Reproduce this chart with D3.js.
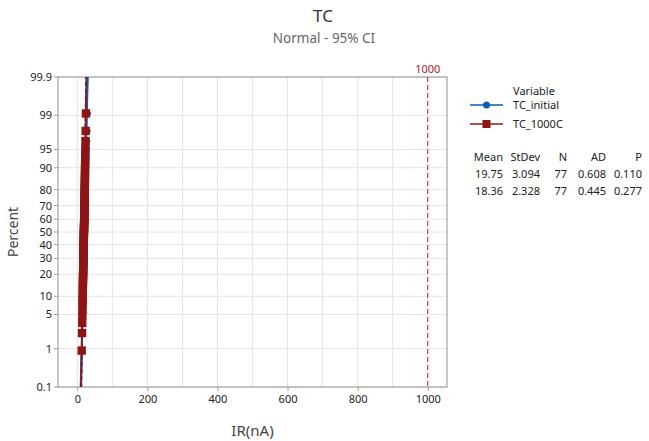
<!DOCTYPE html>
<html><head><meta charset="utf-8">
<script src="https://cdn.jsdelivr.net/npm/d3@7"></script>
<style>body{margin:0;background:#fff;}svg{display:block;font-family:"Noto Sans",sans-serif;}</style>
</head><body><svg id="c" width="649" height="441"></svg>
<script>
// ---- data ----
const seriesNames = ["TC_initial", "TC_1000C"];
const tcInitial = [11.8,13.5,14.4,15.0,15.5,15.9,16.2,16.5,16.7,16.9,17.1,17.3,17.5,17.7,17.8,18.0,18.1,18.2,18.4,18.5,
  18.6,18.7,18.8,18.9,19.0,19.1,19.2,19.3,19.4,19.5,19.5,19.6,19.7,19.8,19.9,19.9,20.0,20.1,20.2,20.3,
  20.4,20.5,20.6,20.7,20.8,20.9,21.0,21.1,21.2,21.3,21.4,21.5,21.6,21.7,21.9,22.0,22.1,22.3,22.4,22.6,
  22.8,23.0,23.2,23.4,23.7,24.0,24.3,24.7,25.1,25.6,26.2,26.9,27.6,28.4,29.2,30.1,31.0];
const tc1000C = [12.6,13.6,14.1,14.5,14.8,15.0,15.2,15.4,15.6,15.8,15.9,16.1,16.2,16.4,16.5,16.6,16.8,16.9,17.0,17.1,
  17.2,17.3,17.4,17.5,17.6,17.7,17.8,17.9,18.0,18.1,18.2,18.3,18.4,18.5,18.6,18.7,18.8,18.9,19.0,19.1,
  19.2,19.3,19.4,19.5,19.6,19.7,19.8,19.9,20.0,20.1,20.2,20.3,20.4,20.5,20.6,20.7,20.8,20.9,21.0,21.1,
  21.2,21.3,21.4,21.5,21.6,21.7,21.8,21.9,22.0,22.2,22.4,22.6,22.8,23.1,23.5,24.0,24.7];
const means = [19.75, 18.36];
const stdevs = [3.094, 2.328];
const ns = [77, 77];
const ads = [0.608, 0.445];
const pvals = [0.110, 0.277];
const statHeaders = ["Mean", "StDev", "N", "AD", "P"];
const statRows = [["19.75","3.094","77","0.608","0.110"],["18.36","2.328","77","0.445","0.277"]];
const xTicks = [0, 200, 400, 600, 800, 1000];
const xGrid = [0,100,200,300,400,500,600,700,800,900,1000];
const yTicks = [0.1, 1, 5, 10, 20, 30, 40, 50, 60, 70, 80, 90, 95, 99, 99.9];
const refLine = 1000;
const colors = ["#0b5cb5", "#8f1515"];

// inverse normal CDF (Acklam)
function qnorm(p){
  const a=[-3.969683028665376e+01,2.209460984245205e+02,-2.759285104469687e+02,1.383577518672690e+02,-3.066479806614716e+01,2.506628277459239e+00];
  const b=[-5.447609879822406e+01,1.615858368580409e+02,-1.556989798598866e+02,6.680131188771972e+01,-1.328068155288572e+01];
  const c=[-7.784894002430293e-03,-3.223964580411365e-01,-2.400758277161838e+00,-2.549671010366540e+00,4.374664141464968e+00,2.938163982698783e+00];
  const d=[7.784695709041462e-03,3.224671290700398e-01,2.445134137142996e+00,3.754408661907416e+00];
  const pl=0.02425;let q,r;
  if(p<pl){q=Math.sqrt(-2*Math.log(p));return (((((c[0]*q+c[1])*q+c[2])*q+c[3])*q+c[4])*q+c[5])/((((d[0]*q+d[1])*q+d[2])*q+d[3])*q+1);}
  if(p<=1-pl){q=p-0.5;r=q*q;return (((((a[0]*r+a[1])*r+a[2])*r+a[3])*r+a[4])*r+a[5])*q/(((((b[0]*r+b[1])*r+b[2])*r+b[3])*r+b[4])*r+1);}
  q=Math.sqrt(-2*Math.log(1-p));return -(((((c[0]*q+c[1])*q+c[2])*q+c[3])*q+c[4])*q+c[5])/((((d[0]*q+d[1])*q+d[2])*q+d[3])*q+1);
}

const svg = d3.select("#c");
const L=58, R=447, T=77, B=387;
const x = d3.scaleLinear().domain([-55, 1055]).range([L, R]);
const y = d3.scaleLinear().domain([qnorm(0.001), qnorm(0.999)]).range([B, T]);
const yp = p => y(qnorm(p/100));

// grid
svg.append("g").selectAll("line").data(xGrid).join("line")
  .attr("x1",d=>x(d)).attr("x2",d=>x(d)).attr("y1",T).attr("y2",B)
  .attr("stroke","#e4e4e4").attr("stroke-width",1);
svg.append("g").selectAll("line").data(yTicks).join("line")
  .attr("x1",L).attr("x2",R).attr("y1",d=>yp(d)).attr("y2",d=>yp(d))
  .attr("stroke","#e4e4e4").attr("stroke-width",1);

// axes
const xAxis = d3.axisBottom(x).tickValues(xTicks).tickSize(4).tickPadding(4).tickFormat(d3.format("d"));
const gx = svg.append("g").attr("transform",`translate(0,${B})`).call(xAxis);
const gy = svg.append("g").attr("transform",`translate(${L},0)`);
gy.selectAll("line").data(yTicks).join("line").attr("x1",-4).attr("x2",0)
  .attr("y1",d=>yp(d)).attr("y2",d=>yp(d)).attr("stroke","#999");
gy.selectAll("text").data(yTicks).join("text").attr("x",-6).attr("y",d=>yp(d)).attr("dy","0.35em")
  .attr("text-anchor","end").attr("font-size",11).attr("fill","#222").text(d=>d);
gx.select(".domain").remove();
gx.selectAll("line").attr("stroke","#999");
gx.selectAll("text").attr("font-size",11).attr("fill","#222").attr("font-family","Noto Sans");
// frame
svg.append("rect").attr("x",L).attr("y",T).attr("width",R-L).attr("height",B-T)
  .attr("fill","none").attr("stroke","#a3a3a3").attr("stroke-width",1.2);

// clip
svg.append("clipPath").attr("id","clip").append("rect").attr("x",L).attr("y",T).attr("width",R-L).attr("height",B-T);
const plot = svg.append("g").attr("clip-path","url(#clip)");

// reference line
plot.append("line").attr("x1",x(refLine)).attr("x2",x(refLine)).attr("y1",T).attr("y2",B)
  .attr("stroke","#c0282d").attr("stroke-width",1).attr("stroke-dasharray","5,3");
svg.append("text").attr("x",x(refLine)).attr("y",T-4).attr("text-anchor","middle")
  .attr("font-size",11).attr("fill","#a8232a").text(refLine);

// series
const data = [tcInitial, tc1000C];
const probs = d3.range(0.1, 99.95, 0.1).concat([99.9]);
data.forEach((vals, k) => {
  const m = means[k], s = stdevs[k], n = ns[k], col = colors[k];
  const fit = d3.line().x(p => x(m + s*qnorm(p/100))).y(p => yp(p));
  const ci = sign => d3.line().x(p => { const z=qnorm(p/100); return x(m + s*z + sign*1.96*s/Math.sqrt(n)*Math.sqrt(1+z*z/2)); }).y(p => yp(p));
  plot.append("path").attr("d",fit(probs)).attr("fill","none").attr("stroke",col).attr("stroke-width",1.5);
  [-1,1].forEach(sg => plot.append("path").attr("d",ci(sg)(probs)).attr("fill","none").attr("stroke",col)
    .attr("stroke-width",1.2).attr("stroke-dasharray", k===1 ? "4,3" : null));
  const sorted = vals.slice().sort(d3.ascending);
  const pts = sorted.map((v,i) => ({v, p: 100*(i+1-0.3)/(sorted.length+0.4)}));
  if (k===0) {
    plot.append("g").selectAll("circle").data(pts).join("circle")
      .attr("cx",d=>x(d.v)).attr("cy",d=>yp(d.p)).attr("r",2.8).attr("fill",col);
  } else {
    plot.append("g").selectAll("rect").data(pts).join("rect")
      .attr("x",d=>x(d.v)-4.2).attr("y",d=>yp(d.p)-4.2).attr("width",8.4).attr("height",8.4).attr("fill",col);
  }
});

// titles
svg.append("text").attr("x",323).attr("y",22).attr("text-anchor","middle").attr("font-size",17).attr("fill","#333").text("TC");
svg.append("text").attr("x",324).attr("y",43).attr("text-anchor","middle").attr("font-size",13.5).attr("fill","#666").text("Normal - 95% CI");
svg.append("text").attr("x",(L+R)/2).attr("y",436).attr("text-anchor","middle").attr("font-size",15).attr("fill","#444").text("IR(nA)");
svg.append("text").attr("transform","translate(18,232) rotate(-90)").attr("text-anchor","middle").attr("font-size",14).attr("fill","#444").text("Percent");

// legend
const lg = svg.append("g");
lg.append("text").attr("x",513).attr("y",95).attr("font-size",11).attr("fill","#222").text("Variable");
seriesNames.forEach((nm,k) => {
  const yy = 105 + k*19;
  lg.append("line").attr("x1",470).attr("x2",503).attr("y1",yy).attr("y2",yy).attr("stroke",colors[k]).attr("stroke-width",1.5);
  if (k===0) lg.append("circle").attr("cx",486.5).attr("cy",yy).attr("r",3.5).attr("fill",colors[k]);
  else lg.append("rect").attr("x",482.5).attr("y",yy-4).attr("width",8).attr("height",8).attr("fill",colors[k]);
  lg.append("text").attr("x",513).attr("y",yy+4).attr("font-size",11).attr("fill","#222").text(nm);
});

// stats table
const colRight = [503, 540, 567, 606, 642];
const tb = svg.append("g").attr("font-size",11).attr("fill","#222").attr("text-anchor","end");
statHeaders.forEach((h,i) => tb.append("text").attr("x",colRight[i]).attr("y",161).text(h));
statRows.forEach((row,r) => row.forEach((v,i) => tb.append("text").attr("x",colRight[i]).attr("y",178+r*17).text(v)));
</script></body></html>
